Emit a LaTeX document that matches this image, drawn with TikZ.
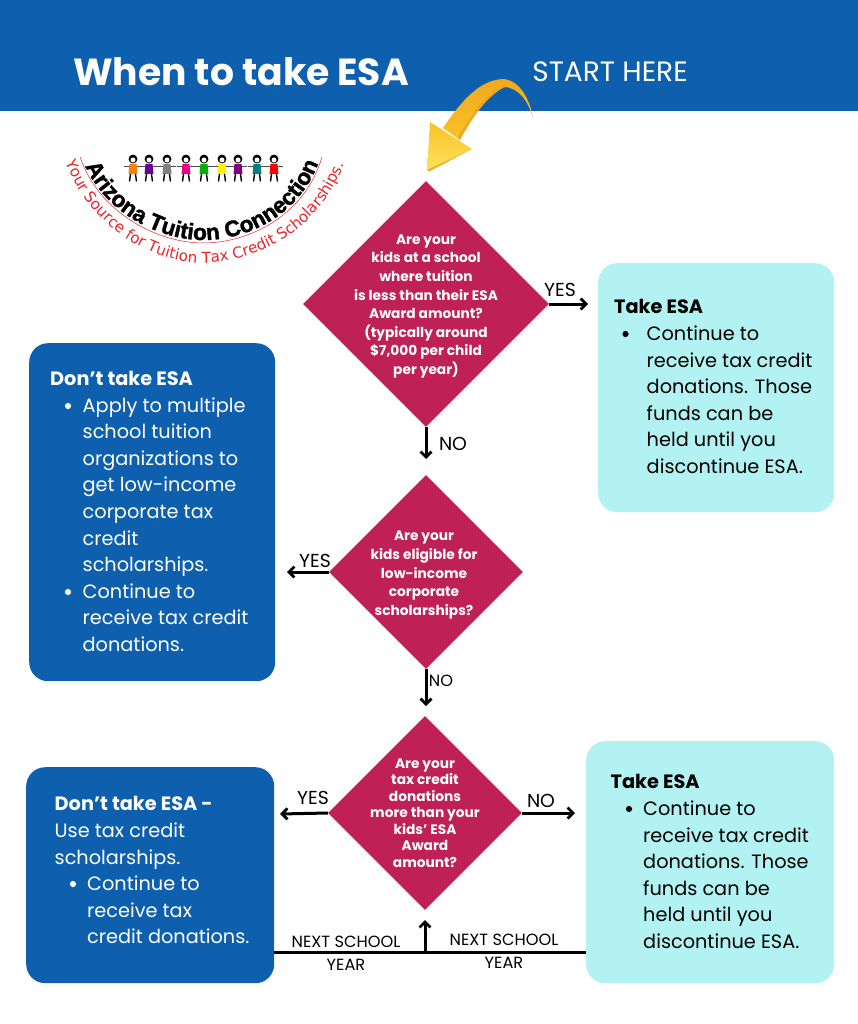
\documentclass[tikz,border=0pt]{standalone}
\usepackage{fontspec}
\setmainfont{Poppins}
\newfontfamily\logofont{Liberation Sans}[BoldFeatures={FakeBold=1.6}]
\newfontfamily\handfont{DejaVu Sans}
\usetikzlibrary{shapes.geometric,arrows.meta,decorations.text}
\definecolor{hdrblue}{HTML}{0E60AE}
\definecolor{crim}{HTML}{BF2156}
\definecolor{aqua}{HTML}{B3F2F2}
\definecolor{logored}{HTML}{E8262C}
\definecolor{arrdark}{HTML}{F2A81C}
\definecolor{arrmid}{HTML}{F9C227}
\definecolor{arrlight}{HTML}{FDE25A}
\newcommand{\fs}[2]{\fontsize{#1}{#2}\selectfont}
\tikzset{
  x=1pt,y=-1pt,
  box/.style={draw=none,rounded corners=19pt},
  decision/.style={shape=diamond,fill=crim,inner sep=0pt,aspect=1},
  qtext/.style={text=white,align=center,font=\fs{13.75}{18.6}\bfseries,inner sep=0pt},
  qtight/.style={qtext,font=\fs{13.75}{16.5}\bfseries},
  body/.style={anchor=north west,align=left,inner sep=0pt,font=\fs{19.3}{26.6}},
  lab/.style={inner sep=0pt,font=\fs{18.8}{20},text=black},
  small/.style={inner sep=0pt,font=\fs{16.2}{18},text=black},
  conn/.style={line width=3pt,-{Straight Barb[length=5.5pt,width=11pt,line width=2.8pt]},black},
  bult/.style={radius=3.1pt},
}
\begin{document}
\begin{tikzpicture}
\useasboundingbox (0,0) rectangle (858,1024);
\fill[white] (0,0) rectangle (858,1024);
\fill[hdrblue] (0,0) rectangle (858,111);
\node[inner sep=0pt,text=white,font=\fs{37.7}{42}\bfseries] (title) at (241,72) {When to take ESA};
\node[inner sep=0pt,text=white,font=\fs{28}{32}] (start) at (610,72) {START HERE};
% yellow arrow
\shade[top color=arrdark,bottom color=arrmid]
  (443,128) .. controls (462,100) and (480,80) .. (503,79)
  .. controls (520,80) and (530,100) .. (533,118)
  .. controls (528,100) and (518,88) .. (505,87)
  .. controls (490,90) and (472,112) .. (457,138) -- cycle;
\fill[arrdark] (457,138) .. controls (472,112) and (490,90) .. (505,87) .. controls (490,94) and (475,112) .. (460,140) -- cycle;
\shade[top color=arrmid,bottom color=arrlight]
  (430,122) -- (472,149) -- (427,170) -- cycle;
\fill[arrdark] (472,149) -- (429,171.5) -- (427,170) -- cycle;
% logo
\draw[logored,line width=0.5pt] (80,157) .. controls (100,215) and (160,243) .. (203,243) .. controls (250,243) and (305,215) .. (322,157);
\path[decorate,decoration={text along path,text align=center,text={|\logofont\fs{22.5}{22}\bfseries|Arizona Tuition Connection}}]
  (82,158) .. controls (102,213) and (160,240) .. (203,240) .. controls (250,240) and (304,213) .. (321,155);
\path[decorate,decoration={text along path,text align=center,text color=logored,text={|\handfont\fs{15.2}{15}\color{logored}|Your Source for Tuition Tax Credit Scholarships.}}]
  (60,146) .. controls (83,225) and (150,263) .. (203,263) .. controls (260,263) and (330,225) .. (349,148);
\foreach \cx/\cc in {133/orange,149/violet!80!blue,167/gray,186/magenta,204/green!70!black,222/yellow,238/violet,257/teal,274/red}{
  \draw[black!70,line width=0.9pt] (\cx-9,166) -- (\cx+9,166);
  \fill[\cc] (\cx-3.5,164) -- (\cx+3.5,164) -- (\cx+4.5,174) -- (\cx-4.5,174) -- cycle;
  \draw[black,line width=1.4pt] (\cx-2.5,174) -- (\cx-3.5,181.5) (\cx+2.5,174) -- (\cx+3.5,181.5);
  \fill[black] (\cx,159) circle (4.4pt);
  \fill[white] (\cx,160) circle (2.5pt);
}
% boxes
\node[box,fill=aqua,anchor=north west,minimum width=236pt,minimum height=249pt] (take1) at (598,263) {};
\node[box,fill=hdrblue,anchor=north west,minimum width=246pt,minimum height=338pt] (dont1) at (29,343) {};
\node[box,fill=hdrblue,anchor=north west,minimum width=248pt,minimum height=216pt] (dont2) at (26,767) {};
\node[box,fill=aqua,anchor=north west,minimum width=248pt,minimum height=242pt] (take2) at (586,741) {};
\node[body,text=black] (t1) at (614,299.5) {\textbf{Take ESA}\\
\hspace*{32.5pt}Continue to\\\hspace*{32.5pt}receive tax credit\\\hspace*{32.5pt}donations. Those\\\hspace*{32.5pt}funds can be\\\hspace*{32.5pt}held until you\\\hspace*{32.5pt}discontinue ESA.};
\fill[black] (625.5,334) circle[bult];
\node[body,text=white] (t2) at (50,371) {\textbf{Don’t take ESA}\\
\hspace*{32.5pt}Apply to multiple\\\hspace*{32.5pt}school tuition\\\hspace*{32.5pt}organizations to\\\hspace*{32.5pt}get low-income\\\hspace*{32.5pt}corporate tax\\\hspace*{32.5pt}credit\\\hspace*{32.5pt}scholarships.\\\hspace*{32.5pt}Continue to\\\hspace*{32.5pt}receive tax credit\\\hspace*{32.5pt}donations.};
\fill[white] (68,406) circle[bult] (68,592) circle[bult];
\node[body,text=white] (t3) at (54.5,796.5) {\textbf{Don’t take ESA -}\\Use tax credit\\scholarships.\\
\hspace*{32.5pt}Continue to\\\hspace*{32.5pt}receive tax\\\hspace*{32.5pt}credit donations.};
\fill[white] (73,884) circle[bult];
\node[body,text=black] (t4) at (610.5,774.5) {\textbf{Take ESA}\\
\hspace*{32.5pt}Continue to\\\hspace*{32.5pt}receive tax credit\\\hspace*{32.5pt}donations. Those\\\hspace*{32.5pt}funds can be\\\hspace*{32.5pt}held until you\\\hspace*{32.5pt}discontinue ESA.};
\fill[black] (629,809) circle[bult];
% decisions
\node[decision,minimum width=246pt,minimum height=246pt] (d1) at (426,304) {};
\node[decision,minimum width=194pt,minimum height=194pt] (d2) at (426,572) {};
\node[decision,minimum width=194pt,minimum height=194pt] (d3) at (425,813) {};
\node[qtext] (q1) at (426,306.5) {Are your\\kids at a school\\where tuition\\is less than their ESA\\Award amount?\\(typically around\\\$7,000 per child\\per year)};
\node[qtext] (q2) at (424,575) {Are your\\kids eligible for\\low-income\\corporate\\scholarships?};
\node[qtight] (q3) at (425,813) {Are your\\tax credit\\donations\\more than your\\kids' ESA\\Award\\amount?};
% connectors
\coordinate (e1) at (588,304);
\coordinate (e2) at (426,459);
\coordinate (e3) at (287,572);
\coordinate (e4) at (426,706);
\coordinate (e5) at (280,814);
\coordinate (e6) at (575,813);
\coordinate (e7) at (425,920);
\coordinate (j) at (425,952);
\draw[conn] (d1.east) -- (e1);
\draw[conn] (d1.south) -- (e2);
\draw[conn] (d2.west) -- (e3);
\draw[conn] (d2.south) -- (e4);
\draw[conn] (d3.west) -- (e5);
\draw[conn] (d3.east) -- (e6);
\draw[line width=3pt,black] (dont2.east |- j) -- (take2.west |- j);
\draw[conn] (j) -- (e7);
% labels
\node[lab] (y1) at (560,290) {YES};
\node[lab] (n1) at (453,444) {NO};
\node[lab] (y2) at (315,561) {YES};
\node[small] (n2) at (441,681) {NO};
\node[lab] (y3) at (313,798) {YES};
\node[lab] (n3) at (541,801) {NO};
\node[small] (ny1) at (346,941.5) {NEXT SCHOOL};
\node[small] (ny1b) at (346,964.5) {YEAR};
\node[small] (ny2) at (504,939.5) {NEXT SCHOOL};
\node[small] (ny2b) at (504,963) {YEAR};
\end{tikzpicture}
\end{document}
